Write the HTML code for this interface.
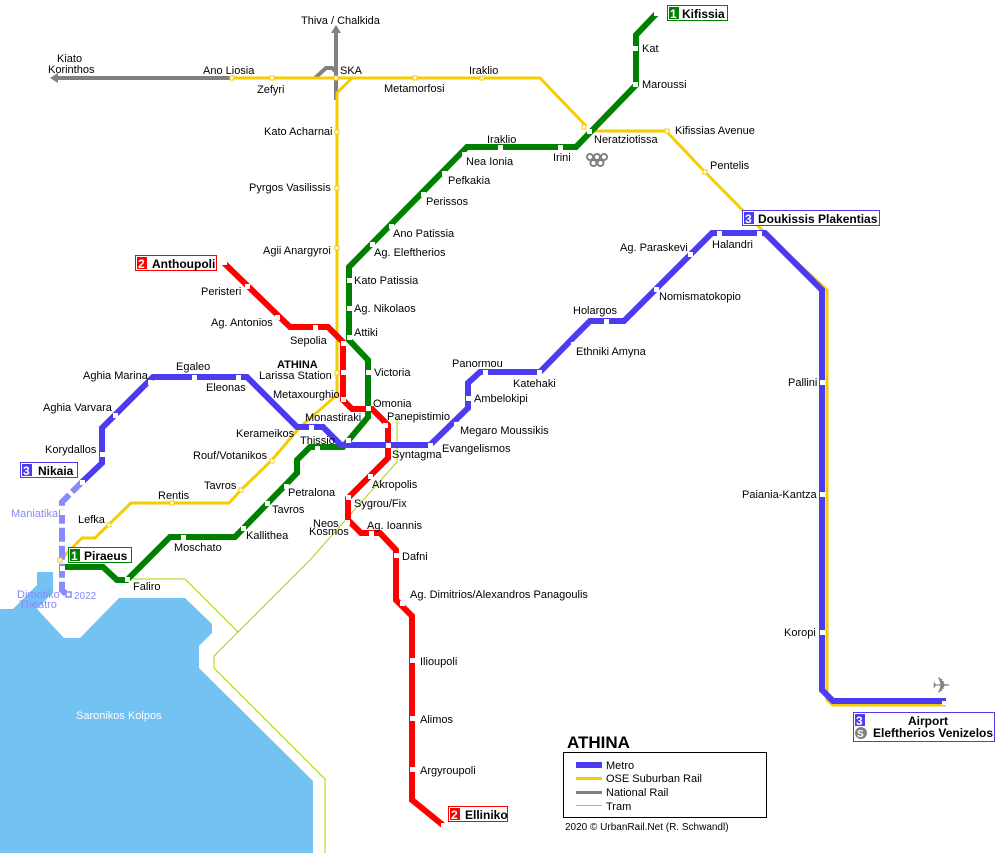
<!DOCTYPE html>
<html><head><meta charset="utf-8"><style>
html,body{margin:0;padding:0;background:#fff}
svg{display:block}
text{font-family:"Liberation Sans",sans-serif;font-size:11px;fill:#000}
.b{font-weight:bold;font-size:12px}
</style></head><body>
<svg width="1000" height="853" viewBox="0 0 1000 853" xmlns="http://www.w3.org/2000/svg">
<!-- sea -->
<polygon fill="#73c2f2" points="0,609 13,609 37,585 37,572 53,572 53,592 37,609 64,638 80,638 119,598 185,598 212,624 212,633 199,646 199,668 313,781 313,853 0,853"/>
<!-- tram -->
<g fill="none" stroke="#a8d400" stroke-width="1">
<polyline points="133,579 185,579 238,632"/>
<polyline points="397,418 397,462 310,560 214,656 214,668 325,779 325,853"/>
</g>
<!-- national rail -->
<g stroke="#808080" stroke-width="4" fill="none">
<line x1="58" y1="78" x2="232" y2="78"/>
<line x1="336" y1="32" x2="336" y2="100"/>
<polyline points="315,78 326,68 332,68 336,72"/>
</g>
<polygon fill="#808080" points="50,78 58,73 58,83"/>
<polygon fill="#808080" points="336,25 331,33 341,33"/>
<!-- suburban yellow -->
<g stroke="#f5cc00" stroke-width="3" fill="none">
<polyline points="232,78 540,78 586,126"/>
<polyline points="352,78 337,93 337,395 300,427 272,460 241,490 229,503 131,503 95,538 82,538 60,560"/>
<polyline points="590,131 666,131 705,172 765,233 827,290 827,700 833,705 946,705"/>
</g>
<!-- green line 1 -->
<polyline fill="none" stroke="#008000" stroke-width="6" stroke-linejoin="miter" points="657,13 636,35 636,85 576,147 467,147 349,267 349,340 368,360 368,417 343,447 310,447 297,460 297,473 235,537 170,537 127,580 117,580 103,567 60,567"/>
<!-- red line 2 -->
<polyline fill="none" stroke="#ff0000" stroke-width="6" points="224,263 290,327 328,327 343,342 343,400 352,409 372,409 388,425 388,458 348,498 348,520 361,533 380,533 396,550 396,600 412,616 412,800 444,826"/>
<!-- blue line 3 -->
<polyline fill="none" stroke="#8888ff" stroke-width="6" stroke-dasharray="14,4" points="82,482 62,502 62,590 68,596"/>
<polyline fill="none" stroke="#4b3cf0" stroke-width="6" points="82,482 102,463 102,428 153,377 247,377 297,427 323,427 341,445 430,445 468,408 468,383 480,372 540,372 575,336 590,321 624,321 660,285 712,233 765,233 822,290 822,690 833,701 946,701"/>
<!-- stations white squares -->
<g fill="#fff">
<rect x="654" y="11" width="5" height="5"/><rect x="633" y="46" width="5" height="5"/><rect x="633" y="82" width="5" height="5"/>
<rect x="587" y="129" width="5" height="5"/><rect x="558" y="145" width="5" height="5"/><rect x="498" y="145" width="5" height="5"/>
<rect x="462" y="152" width="5" height="5"/><rect x="442" y="171" width="5" height="5"/><rect x="421" y="192" width="5" height="5"/>
<rect x="389" y="224" width="5" height="5"/><rect x="370" y="242" width="5" height="5"/><rect x="347" y="278" width="5" height="5"/>
<rect x="347" y="306" width="5" height="5"/><rect x="347" y="335" width="5" height="5"/><rect x="366" y="370" width="5" height="5"/>
<rect x="366" y="406" width="5" height="5"/><rect x="346" y="438" width="5" height="5"/><rect x="315" y="446" width="5" height="5"/>
<rect x="284" y="484" width="5" height="5"/><rect x="265" y="501" width="5" height="5"/><rect x="241" y="526" width="5" height="5"/>
<rect x="181" y="535" width="5" height="5"/><rect x="125" y="577" width="5" height="5"/><rect x="60" y="566" width="5" height="5"/>
<rect x="222" y="260" width="5" height="5"/><rect x="245" y="284" width="5" height="5"/><rect x="275" y="315" width="5" height="5"/>
<rect x="313" y="325" width="5" height="5"/><rect x="341" y="341" width="5" height="5"/><rect x="341" y="370" width="5" height="5"/>
<rect x="341" y="397" width="5" height="5"/><rect x="383" y="423" width="5" height="5"/><rect x="386" y="443" width="5" height="5"/>
<rect x="368" y="474" width="5" height="5"/><rect x="346" y="495" width="5" height="5"/><rect x="345" y="520" width="5" height="5"/>
<rect x="369" y="531" width="5" height="5"/><rect x="394" y="553" width="5" height="5"/><rect x="400" y="601" width="5" height="5"/>
<rect x="410" y="658" width="5" height="5"/><rect x="410" y="716" width="5" height="5"/><rect x="410" y="767" width="5" height="5"/>
<rect x="441" y="823" width="5" height="5"/>
<rect x="80" y="480" width="5" height="5"/><rect x="100" y="452" width="5" height="5"/><rect x="113" y="413" width="5" height="5"/>
<rect x="148" y="380" width="5" height="5"/><rect x="192" y="375" width="5" height="5"/><rect x="236" y="375" width="5" height="5"/>
<rect x="309" y="425" width="5" height="5"/><rect x="428" y="443" width="5" height="5"/><rect x="454" y="422" width="5" height="5"/>
<rect x="466" y="396" width="5" height="5"/><rect x="483" y="370" width="5" height="5"/><rect x="537" y="370" width="5" height="5"/>
<rect x="571" y="342" width="5" height="5"/><rect x="604" y="319" width="5" height="5"/><rect x="654" y="287" width="5" height="5"/>
<rect x="688" y="252" width="5" height="5"/><rect x="717" y="231" width="5" height="5"/><rect x="757" y="231" width="5" height="5"/>
<rect x="820" y="380" width="5" height="5"/><rect x="820" y="492" width="5" height="5"/><rect x="820" y="630" width="5" height="5"/>
<rect x="942" y="701" width="5" height="4"/><rect x="60" y="510" width="5" height="5"/>
</g>
<rect x="66" y="592" width="5" height="5" fill="#fff" stroke="#8888ff" stroke-width="1.5"/>
<g fill="#fff" stroke="#f5cc00" stroke-width="1">
<rect x="230" y="76" width="4" height="4"/><rect x="270" y="76" width="4" height="4"/><rect x="334" y="76" width="4" height="4"/>
<rect x="413" y="76" width="4" height="4"/><rect x="480" y="76" width="4" height="4"/><rect x="582" y="125" width="4" height="4"/>
<rect x="665" y="129" width="4" height="4"/><rect x="703" y="170" width="4" height="4"/><rect x="335" y="130" width="4" height="4"/>
<rect x="335" y="186" width="4" height="4"/><rect x="335" y="246" width="4" height="4"/><rect x="335" y="371" width="4" height="4"/>
<rect x="270" y="459" width="4" height="4"/><rect x="239" y="488" width="4" height="4"/><rect x="170" y="501" width="4" height="4"/>
<rect x="107" y="523" width="4" height="4"/><rect x="58" y="558" width="4" height="4"/>
</g>
<!-- olympic rings -->
<g fill="none" stroke="#808080" stroke-width="2"><circle cx="590" cy="157" r="3"/><circle cx="597" cy="157" r="3"/><circle cx="604" cy="157" r="3"/><circle cx="593.5" cy="163" r="3"/><circle cx="600.5" cy="163" r="3"/></g>
<!-- plane -->
<text x="932" y="693" style="font-size:22px;fill:#808080">✈</text>
<!-- line labels -->
<rect x="667.5" y="5.5" width="60" height="15" fill="#fff" stroke="#008000"/><rect x="669" y="7" width="10" height="12" fill="#008000"/>
<text x="670" y="18" class="b" style="fill:#fff">1</text><text x="682" y="18" class="b">Kifissia</text>
<rect x="135.5" y="255.5" width="81" height="15" fill="#fff" stroke="#ff0000"/><rect x="137" y="257" width="10" height="12" fill="#ff0000"/>
<text x="138" y="268" class="b" style="fill:#fff">2</text><text x="152" y="268" class="b">Anthoupoli</text>
<rect x="20.5" y="462.5" width="57" height="15" fill="#fff" stroke="#4b3cf0"/><rect x="22" y="464" width="10" height="12" fill="#4b3cf0"/>
<text x="23" y="475" class="b" style="fill:#fff">3</text><text x="38" y="475" class="b">Nikaia</text>
<rect x="68.5" y="547.5" width="63" height="15" fill="#fff" stroke="#008000"/><rect x="70" y="549" width="10" height="12" fill="#008000"/>
<text x="71" y="560" class="b" style="fill:#fff">1</text><text x="84" y="560" class="b">Piraeus</text>
<rect x="742.5" y="210.5" width="137" height="15" fill="#fff" stroke="#4b3cf0"/><rect x="744" y="212" width="10" height="12" fill="#4b3cf0"/>
<text x="745" y="223" class="b" style="fill:#fff">3</text><text x="758" y="223" class="b">Doukissis Plakentias</text>
<rect x="448.5" y="806.5" width="59" height="15" fill="#fff" stroke="#ff0000"/><rect x="450" y="808" width="10" height="12" fill="#ff0000"/>
<text x="451" y="819" class="b" style="fill:#fff">2</text><text x="465" y="819" class="b">Elliniko</text>
<rect x="853.5" y="712.5" width="141" height="29" fill="#fff" stroke="#4b3cf0"/><rect x="855" y="714" width="10" height="12" fill="#4b3cf0"/>
<text x="856" y="725" class="b" style="fill:#fff">3</text><text x="908" y="725" class="b">Airport</text>
<circle cx="861" cy="733" r="6" fill="#808080"/><text x="857" y="737" class="b" style="fill:#fff;font-size:10px">S</text>
<text x="873" y="737" class="b">Eleftherios Venizelos</text>
<!-- station labels -->
<text x="642" y="52">Kat</text><text x="642" y="88">Maroussi</text>
<text x="594" y="143">Neratziotissa</text><text x="553" y="161">Irini</text><text x="487" y="143">Iraklio</text>
<text x="466" y="165">Nea Ionia</text><text x="448" y="184">Pefkakia</text><text x="426" y="205">Perissos</text>
<text x="393" y="237">Ano Patissia</text><text x="374" y="256">Ag. Eleftherios</text><text x="354" y="284">Kato Patissia</text>
<text x="354" y="312">Ag. Nikolaos</text><text x="354" y="336">Attiki</text><text x="374" y="376">Victoria</text>
<text x="373" y="407">Omonia</text><text x="387" y="420">Panepistimio</text><text x="392" y="458">Syntagma</text>
<text x="442" y="452">Evangelismos</text><text x="460" y="434">Megaro Moussikis</text><text x="474" y="402">Ambelokipi</text>
<text x="452" y="367">Panormou</text><text x="513" y="387">Katehaki</text><text x="576" y="355">Ethniki Amyna</text>
<text x="573" y="314">Holargos</text><text x="659" y="300">Nomismatokopio</text><text x="620" y="251">Ag. Paraskevi</text>
<text x="712" y="248">Halandri</text><text x="788" y="386">Pallini</text><text x="742" y="498">Paiania-Kantza</text>
<text x="784" y="636">Koropi</text>
<text x="305" y="421">Monastiraki</text><text x="300" y="444">Thissio</text><text x="236" y="437">Kerameikos</text>
<text x="288" y="496">Petralona</text><text x="272" y="513">Tavros</text><text x="246" y="539">Kallithea</text>
<text x="174" y="551">Moschato</text><text x="133" y="590">Faliro</text>
<text x="372" y="488">Akropolis</text><text x="354" y="507">Sygrou/Fix</text><text x="313" y="527">Neos</text><text x="309" y="535">Kosmos</text>
<text x="367" y="529">Ag. Ioannis</text><text x="402" y="560">Dafni</text><text x="410" y="598">Ag. Dimitrios/Alexandros Panagoulis</text>
<text x="420" y="665">Ilioupoli</text><text x="420" y="723">Alimos</text><text x="420" y="774">Argyroupoli</text>
<text x="201" y="295">Peristeri</text><text x="211" y="326">Ag. Antonios</text><text x="290" y="344">Sepolia</text>
<text x="277" y="368" style="font-weight:bold">ATHINA</text><text x="259" y="379">Larissa Station</text><text x="273" y="398">Metaxourghio</text>
<text x="83" y="379">Aghia Marina</text><text x="176" y="370">Egaleo</text><text x="206" y="391">Eleonas</text>
<text x="43" y="411">Aghia Varvara</text><text x="45" y="453">Korydallos</text>
<text x="193" y="459">Rouf/Votanikos</text><text x="204" y="489">Tavros</text><text x="158" y="499">Rentis</text><text x="78" y="523">Lefka</text>
<text x="11" y="517" style="fill:#8888ff">Maniatika</text><text x="17" y="598" style="fill:#8888ff">Dimotiko</text><text x="19" y="608" style="fill:#8888ff">Theatro</text>
<text x="74" y="599" style="fill:#8888ff;font-size:10px">2022</text>
<text x="76" y="719" style="fill:#fff">Saronikos Kolpos</text>
<text x="264" y="135">Kato Acharnai</text><text x="249" y="191">Pyrgos Vasilissis</text><text x="263" y="254">Agii Anargyroi</text>
<text x="203" y="74">Ano Liosia</text><text x="257" y="93">Zefyri</text><text x="340" y="74">SKA</text>
<text x="384" y="92">Metamorfosi</text><text x="469" y="74">Iraklio</text><text x="675" y="134">Kifissias Avenue</text>
<text x="710" y="169">Pentelis</text><text x="301" y="24">Thiva / Chalkida</text>
<text x="57" y="62">Kiato</text><text x="48" y="73">Korinthos</text>
<!-- legend -->
<text x="567" y="748" style="font-weight:bold;font-size:17px">ATHINA</text>
<rect x="563.5" y="752.5" width="203" height="65" fill="none" stroke="#000"/>
<rect x="576" y="762" width="26" height="6" fill="#4b3cf0"/><text x="606" y="769">Metro</text>
<rect x="576" y="777" width="26" height="3" fill="#f5cc00"/><text x="606" y="782">OSE Suburban Rail</text>
<rect x="576" y="791" width="26" height="3" fill="#808080"/><text x="606" y="796">National Rail</text>
<rect x="576" y="805" width="26" height="1" fill="#a8d400"/><text x="606" y="810">Tram</text>
<text x="565" y="830" style="font-size:10px">2020 © UrbanRail.Net (R. Schwandl)</text>
</svg>
</body></html>
